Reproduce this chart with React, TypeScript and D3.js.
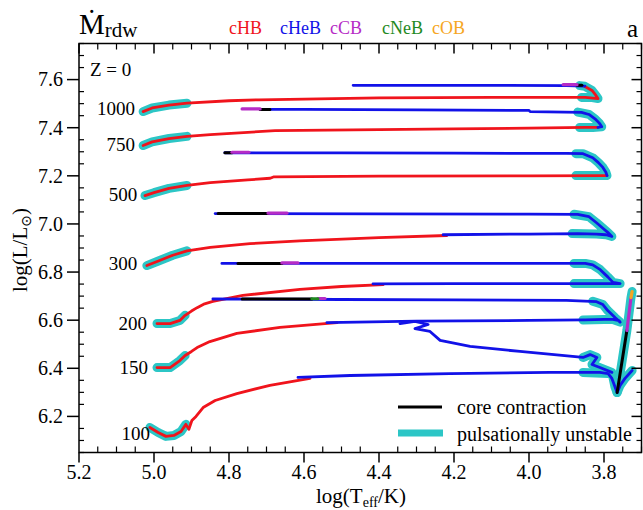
import React from "react";
import * as d3 from "d3";

type Pt = [number, number];

// ---------- data (log Teff, log L) ----------
const xTicks = [5.2, 5.0, 4.8, 4.6, 4.4, 4.2, 4.0, 3.8];
const yTicks = [6.2, 6.4, 6.6, 6.8, 7.0, 7.2, 7.4, 7.6];
const phaseNames = ["cHB", "cHeB", "cCB", "cNeB", "cOB"];
const massLabels = ["1000", "750", "500", "300", "200", "150", "100"];
const massLabelLogT = [5.051, 5.051, 5.045, 5.045, 5.019, 5.016, 5.011];
const massLabelLogL = [7.451, 7.305, 7.097, 6.807, 6.561, 6.378, 6.1];

const cHB: Pt[][] = [
  [[5.029, 7.467], [5.005, 7.482], [4.96, 7.494], [4.912, 7.502], [4.8, 7.512], [4.72, 7.516], [4.4, 7.524], [4.1, 7.526], [3.85, 7.526], [3.816, 7.521], [3.822, 7.535], [3.832, 7.555], [3.851, 7.571]],
  [[5.029, 7.326], [5.005, 7.341], [4.96, 7.355], [4.912, 7.364], [4.85, 7.371], [4.677, 7.388], [4.4, 7.392], [4.2, 7.395], [4.0, 7.398], [3.85, 7.401], [3.816, 7.401]],
  [[5.024, 7.118], [5.0, 7.13], [4.96, 7.148], [4.912, 7.16], [4.85, 7.172], [4.75, 7.183], [4.69, 7.19], [4.68, 7.196], [4.4, 7.199], [4.0, 7.2], [3.792, 7.201]],
  [[5.019, 6.827], [4.99, 6.845], [4.95, 6.87], [4.912, 6.888], [4.85, 6.903], [4.744, 6.918], [4.611, 6.93], [4.4, 6.943], [4.219, 6.952]],
  [[4.992, 6.586], [4.957, 6.586], [4.931, 6.599], [4.917, 6.62], [4.9, 6.638], [4.885, 6.652], [4.865, 6.668], [4.843, 6.678], [4.8, 6.692], [4.763, 6.703], [4.611, 6.728], [4.5, 6.74], [4.389, 6.748]],
  [[4.992, 6.403], [4.957, 6.403], [4.931, 6.432], [4.917, 6.453], [4.9, 6.47], [4.885, 6.486], [4.851, 6.511], [4.779, 6.545], [4.664, 6.57], [4.512, 6.59]],
  [[5.011, 6.154], [4.989, 6.133], [4.968, 6.117], [4.947, 6.121], [4.928, 6.137], [4.915, 6.167], [4.907, 6.146], [4.899, 6.183], [4.888, 6.2], [4.869, 6.237], [4.837, 6.266], [4.779, 6.295], [4.691, 6.329], [4.584, 6.358]],
];

const cHeB: Pt[][] = [
  [[3.851, 7.573], [3.9, 7.575], [4.1, 7.576], [4.3, 7.576], [4.469, 7.576]],
  [[3.816, 7.401], [3.806, 7.404], [3.812, 7.418], [3.824, 7.437], [3.84, 7.455], [3.86, 7.464], [3.95, 7.466], [3.997, 7.467], [4.0, 7.472], [4.3, 7.474], [4.6, 7.476], [4.691, 7.476]],
  [[3.792, 7.201], [3.795, 7.215], [3.803, 7.235], [3.815, 7.255], [3.83, 7.275], [3.856, 7.292], [3.9, 7.293], [4.2, 7.294], [4.5, 7.295], [4.811, 7.296]],
  [[4.229, 6.955], [4.0, 6.958], [3.87, 6.96], [3.82, 6.958], [3.795, 6.955], [3.779, 6.948], [3.79, 6.965], [3.803, 6.982], [3.82, 7.005], [3.84, 7.03], [3.87, 7.04], [4.0, 7.041], [4.4, 7.042], [4.837, 7.043]],
  [[4.416, 6.751], [4.2, 6.752], [3.9, 6.752], [3.8, 6.752], [3.757, 6.752], [3.776, 6.757], [3.79, 6.78], [3.81, 6.81], [3.83, 6.83], [3.85, 6.836], [4.0, 6.836], [4.4, 6.836], [4.819, 6.836]],
  [[4.539, 6.59], [4.3, 6.596], [4.0, 6.599], [3.85, 6.601], [3.8, 6.603], [3.776, 6.603], [3.76, 6.598], [3.757, 6.592], [3.77, 6.61], [3.79, 6.64], [3.803, 6.665], [3.82, 6.677], [3.9, 6.682], [4.2, 6.684], [4.5, 6.686], [4.843, 6.688]],
  [[4.616, 6.362], [4.477, 6.37], [4.211, 6.378], [3.944, 6.383], [3.811, 6.383], [3.789, 6.378], [3.779, 6.358], [3.771, 6.324], [3.765, 6.299], [3.757, 6.329], [3.744, 6.358], [3.725, 6.391]],
  [[4.344, 6.586], [4.304, 6.595], [4.269, 6.582], [4.304, 6.565], [4.264, 6.553], [4.237, 6.516], [4.157, 6.491], [4.024, 6.47], [3.856, 6.445], [3.837, 6.457], [3.819, 6.445], [3.832, 6.416], [3.811, 6.403], [3.779, 6.383]],
];

const coreContraction: Pt[][] = [
  [[3.872, 7.576], [3.859, 7.576]],
  [[4.717, 7.476], [4.691, 7.476]],
  [[4.811, 7.296], [4.792, 7.296]],
  [[4.829, 7.043], [4.696, 7.043]],
  [[4.776, 6.836], [4.659, 6.836]],
  [[4.765, 6.688], [4.579, 6.688]],
  [[3.765, 6.299], [3.739, 6.557]],
];
const cCB: Pt[][] = [
  [[3.909, 7.579], [3.872, 7.579]],
  [[4.765, 7.478], [4.717, 7.478]],
  [[4.792, 7.298], [4.747, 7.298]],
  [[4.696, 7.045], [4.645, 7.045]],
  [[4.659, 6.838], [4.616, 6.838]],
  [[4.563, 6.69], [4.544, 6.69]],
  [[3.739, 6.557], [3.728, 6.694]],
];
const cNeB: Pt[][] = [
  [[4.579, 6.689], [4.563, 6.689]],
];
const cOB: Pt[][] = [
  [[3.728, 6.694], [3.725, 6.719]],
];

const unstable: Pt[][] = [
  [[5.029, 7.467], [5.005, 7.482], [4.96, 7.494], [4.912, 7.502]],
  [[3.865, 7.575], [3.851, 7.572], [3.832, 7.555], [3.822, 7.535], [3.816, 7.521], [3.835, 7.526], [3.86, 7.526]],
  [[5.029, 7.326], [5.005, 7.341], [4.96, 7.355], [4.912, 7.364]],
  [[3.87, 7.465], [3.84, 7.455], [3.824, 7.437], [3.812, 7.418], [3.806, 7.404], [3.83, 7.401], [3.865, 7.401]],
  [[5.024, 7.118], [5.0, 7.13], [4.96, 7.148], [4.912, 7.16]],
  [[3.875, 7.292], [3.856, 7.292], [3.83, 7.275], [3.815, 7.255], [3.803, 7.235], [3.795, 7.215], [3.792, 7.201], [3.83, 7.201], [3.875, 7.201]],
  [[5.019, 6.827], [4.99, 6.845], [4.95, 6.87], [4.912, 6.888]],
  [[3.88, 7.04], [3.84, 7.03], [3.82, 7.005], [3.803, 6.982], [3.79, 6.965], [3.779, 6.948], [3.795, 6.955], [3.82, 6.958], [3.885, 6.96]],
  [[4.992, 6.586], [4.957, 6.586], [4.931, 6.599], [4.917, 6.62]],
  [[3.88, 6.836], [3.85, 6.836], [3.83, 6.83], [3.81, 6.81], [3.79, 6.78], [3.776, 6.757], [3.757, 6.752], [3.8, 6.752], [3.88, 6.752]],
  [[4.992, 6.403], [4.957, 6.403], [4.931, 6.432], [4.917, 6.453]],
  [[3.83, 6.679], [3.803, 6.665], [3.79, 6.64], [3.77, 6.61], [3.757, 6.592], [3.776, 6.603], [3.8, 6.603], [3.856, 6.601]],
  [[5.011, 6.154], [4.989, 6.133], [4.968, 6.117], [4.947, 6.121], [4.928, 6.137], [4.915, 6.167]],
  [[3.856, 6.445], [3.837, 6.457], [3.819, 6.445], [3.832, 6.416], [3.811, 6.403], [3.779, 6.383], [3.771, 6.324], [3.765, 6.299], [3.757, 6.329], [3.744, 6.358], [3.725, 6.391]],
  [[3.856, 6.383], [3.789, 6.378]],
  [[3.765, 6.299], [3.739, 6.557], [3.728, 6.694], [3.725, 6.719]],
];

// ---------- styling ----------
const RED = "#f0141c";
const BLUE = "#1212e8";
const MAG = "#b62cc6";
const GREEN = "#1f8a1f";
const ORANGE = "#f6a623";
const CYAN = "#2cc6c6";
const phaseColors = [RED, BLUE, MAG, GREEN, ORANGE];
const SERIF = '"Liberation Serif", "Times New Roman", "DejaVu Serif", serif';

export default function App() {
  const W = 643, H = 510;
  const L = 79, R = 641.5, T = 43.5, B = 452.5;
  const x = d3.scaleLinear().domain([5.2, 3.7]).range([L, R]);
  const y = d3.scaleLinear().domain([6.05, 7.75]).range([B, T]);
  const line = d3.line<Pt>().x((d) => x(d[0])).y((d) => y(d[1]));

  const xMinor = d3.range(0, 31).map((i) => 5.2 - i * 0.05).filter((_, i) => i % 4 !== 0);
  const yMinor = d3.range(0, 35).map((i) => 6.05 + i * 0.05).filter((v) => Math.abs((v * 5) - Math.round(v * 5)) > 1e-6);

  const path = (arr: Pt[][], color: string, w: number, key: string) =>
    arr.map((p, i) => (
      <path key={key + i} d={line(p) || ""} fill="none" stroke={color} strokeWidth={w}
        strokeLinejoin="round" strokeLinecap="round" />
    ));

  const legendX = [229, 280, 330, 382, 432];
  const ts = { fontFamily: SERIF } as React.CSSProperties;

  return (
    <svg width={W} height={H} style={{ position: "absolute", left: 0, top: 0, background: "#fff", fontFamily: SERIF }}>
      <rect x={0} y={0} width={W} height={H} fill="#fff" />
      <defs>
        <clipPath id="plotclip">
          <rect x={L} y={T} width={R - L} height={B - T} />
        </clipPath>
      </defs>

      <g clipPath="url(#plotclip)">
        {path(unstable, CYAN, 9, "u")}
        {path(cHB, RED, 2.8, "h")}
        {path(cHeB, BLUE, 2.8, "he")}
        {path(coreContraction, "#000", 3, "cc")}
        {path(cCB, MAG, 3.2, "c")}
        {path(cNeB, GREEN, 3.2, "ne")}
        {path(cOB, ORANGE, 3.2, "o")}
      </g>

      {/* frame */}
      <rect x={L} y={T} width={R - L} height={B - T} fill="none" stroke="#000" strokeWidth={1.5} />

      {/* x ticks */}
      {xTicks.map((v) => (
        <g key={"xt" + v}>
          <line x1={x(v)} x2={x(v)} y1={B} y2={B + 10} stroke="#000" strokeWidth={1.5} />
          <line x1={x(v)} x2={x(v)} y1={T} y2={T + 10} stroke="#000" strokeWidth={1.5} />
          <text style={ts} x={x(v)} y={479} fontSize={20} textAnchor="middle">{v.toFixed(1)}</text>
        </g>
      ))}
      {xMinor.map((v, i) => (
        <g key={"xm" + i}>
          <line x1={x(v)} x2={x(v)} y1={B} y2={B - 6} stroke="#000" strokeWidth={1.2} />
          <line x1={x(v)} x2={x(v)} y1={T} y2={T + 6} stroke="#000" strokeWidth={1.2} />
        </g>
      ))}

      {/* y ticks */}
      {yTicks.map((v) => (
        <g key={"yt" + v}>
          <line x1={L - 12} x2={L} y1={y(v)} y2={y(v)} stroke="#000" strokeWidth={1.5} />
          <line x1={R - 10} x2={R} y1={y(v)} y2={y(v)} stroke="#000" strokeWidth={1.5} />
          <text style={ts} x={63} y={y(v) + 6.8} fontSize={20} textAnchor="end">{v.toFixed(1)}</text>
        </g>
      ))}
      {yMinor.map((v, i) => (
        <g key={"ym" + i}>
          <line x1={L} x2={L + 5} y1={y(v)} y2={y(v)} stroke="#000" strokeWidth={1.2} />
          <line x1={R - 5} x2={R} y1={y(v)} y2={y(v)} stroke="#000" strokeWidth={1.2} />
        </g>
      ))}

      {/* axis labels */}
      <text style={ts} x={361} y={503} fontSize={21} textAnchor="middle">
        log(T<tspan fontSize={14} dy={4}>eff</tspan><tspan dy={-4}>/K)</tspan>
      </text>
      <text style={ts} transform="translate(27,250) rotate(-90)" fontSize={21} textAnchor="middle">
        log(L/L<tspan fontSize={14} dy={4} style={{ fontFamily: '"DejaVu Sans", sans-serif' }}>⊙</tspan><tspan dy={-4}>)</tspan>
      </text>

      {/* title and phase legend */}
      <text style={ts} x={79} y={34} fontSize={29}>
        Ṁ<tspan fontSize={21} dy={3}>rdw</tspan>
      </text>
      {phaseNames.map((n, i) => (
        <text style={ts} key={n} x={legendX[i]} y={34} fontSize={18} fill={phaseColors[i]}>{n}</text>
      ))}
      <text style={ts} x={627} y={37} fontSize={25}>a</text>

      <text style={ts} x={90} y={76} fontSize={19}>Z = 0</text>

      {massLabels.map((m, i) => (
        <text style={ts} key={m} x={x(massLabelLogT[i])} y={y(massLabelLogL[i])} fontSize={19} textAnchor="end">{m}</text>
      ))}

      {/* bottom legend */}
      <line x1={398} x2={442} y1={407} y2={407} stroke="#000" strokeWidth={3} />
      <text style={ts} x={457} y={414} fontSize={20}>core contraction</text>
      <line x1={398} x2={443} y1={433} y2={433} stroke={CYAN} strokeWidth={7} />
      <text style={ts} x={457} y={441} fontSize={20}>pulsationally unstable</text>
    </svg>
  );
}
